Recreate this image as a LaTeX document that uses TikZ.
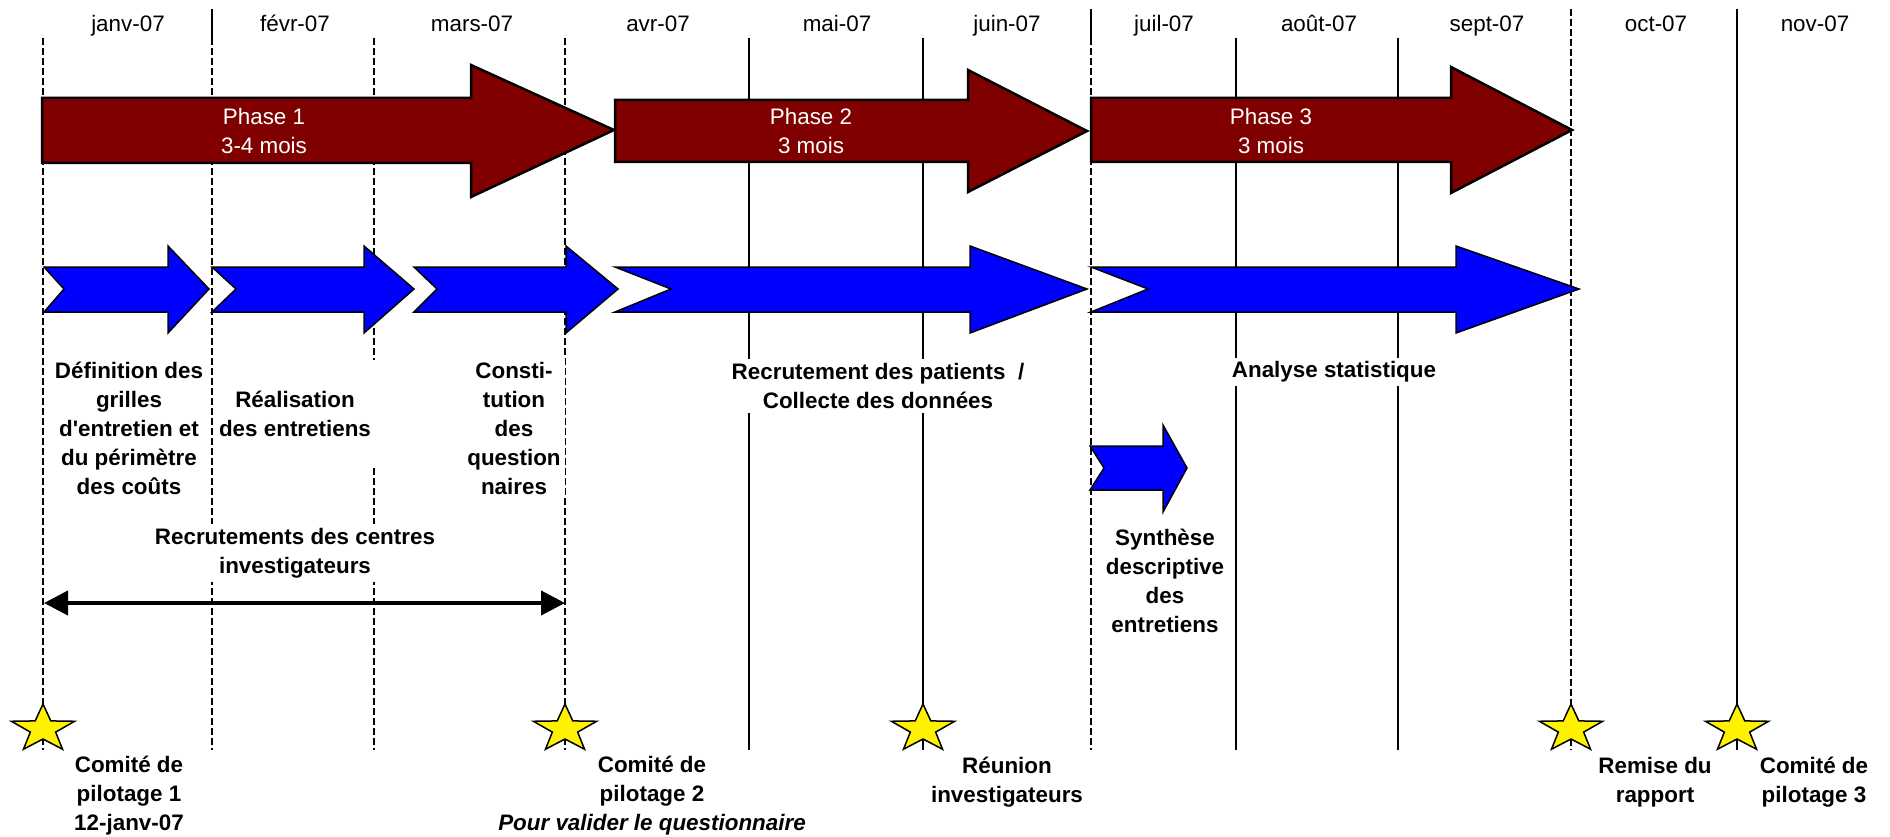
\documentclass[tikz,border=0pt]{standalone}
\usepackage{fontspec}
\setmainfont{Liberation Sans}
\usepackage{tikz}
\usetikzlibrary{shapes.geometric, arrows.meta, positioning}
\definecolor{bordeaux}{RGB}{128,0,0}
\newcommand{\taille}{\fontsize{22.4}{29}\selectfont}
\tikzstyle{grille} = [line width=1.3pt]
\tikzstyle{grilletir} = [line width=2.4pt, dash pattern=on 7pt off 3pt]
\tikzstyle{mois} = [anchor=base, font=\taille]
\tikzstyle{phase} = [fill=bordeaux, draw=black, line width=2.5pt]
\tikzstyle{etape} = [fill=blue, draw=black, line width=1.5pt]
\tikzstyle{phasetexte} = [align=center, text=white, font=\taille]
\tikzstyle{texte} = [align=center, fill=white, inner sep=4pt, font=\taille\bfseries]
\tikzstyle{jalon} = [star, star points=5, star point ratio=2.5, minimum size=50pt, inner sep=0pt, xscale=1.33, fill=yellow, draw=black, line width=1.5pt]
\tikzstyle{duree} = [line width=4pt, {Triangle[length=24pt,width=24pt]}-{Triangle[length=24pt,width=24pt]}]
\newcommand{\etape}[4]{\draw[etape] (#1,267) -- (#3,267) -- (#3,246) -- (#4,289) -- (#3,333) -- (#3,312) -- (#1,312) -- (#2,289) -- cycle;}
\begin{document}
\begin{tikzpicture}[x=1pt, y=-1pt]
\useasboundingbox (0,0) rectangle (1890,837);
\draw[grilletir] (43,38) -- (43,750);
\draw[grille] (212,9) -- (212,38);
\draw[grilletir] (212,38) -- (212,750);
\draw[grilletir] (374,38) -- (374,750);
\draw[grilletir] (565,38) -- (565,750);
\draw[grille] (749,38) -- (749,750);
\draw[grille] (923,38) -- (923,750);
\draw[grille] (1091,9) -- (1091,38);
\draw[grilletir] (1091,38) -- (1091,750);
\draw[grille] (1236,38) -- (1236,750);
\draw[grille] (1398,38) -- (1398,750);
\draw[grilletir] (1571,9) -- (1571,750);
\draw[grille] (1737,9) -- (1737,750);
\foreach \x/\m [count=\i] in {128/janv-07, 295/févr-07, 472/mars-07, 658/avr-07, 837/mai-07, 1007/juin-07, 1164/juil-07, 1319/août-07, 1487/sept-07, 1656/oct-07, 1815/nov-07}
  \node[mois] (m\i) at (\x,32) {\m};
\draw[phase] (42,98) -- (471,98) -- (471,65) -- (614,130) -- (471,197) -- (471,163) -- (42,163) -- cycle;
\draw[phase] (615,100) -- (968,100) -- (968,70) -- (1087,131) -- (968,192) -- (968,162) -- (615,162) -- cycle;
\draw[phase] (1091,98) -- (1451,98) -- (1451,67) -- (1572,130) -- (1451,193) -- (1451,162) -- (1091,162) -- cycle;
\node[phasetexte] (p1) at (264,131) {Phase 1\\3-4 mois};
\node[phasetexte] (p2) at (811,131) {Phase 2\\3 mois};
\node[phasetexte] (p3) at (1271,131) {Phase 3\\3 mois};
\etape{44}{64}{168}{209}
\etape{212}{236}{364}{414}
\etape{414}{437}{566}{618}
\etape{615}{671}{970}{1087}
\etape{1091}{1148}{1456}{1579}
\draw[etape] (1090,446) -- (1163,446) -- (1163,425) -- (1187,468) -- (1163,512) -- (1163,490) -- (1090,490) -- (1104,468) -- cycle;
\node[texte] (def) at (129,428) {Définition des\\grilles\\d\textquotesingle entretien et\\du périmètre\\des coûts};
\node[texte, inner ysep=31pt] (real) at (295,414) {Réalisation\\des entretiens};
\node[texte] (const) at (514,428) {Consti-\\tution\\des\\question\\naires};
\node[texte] (centres) at (295,553) {Recrutements des centres\\investigateurs};
\coordinate (d1) at (44,603);
\coordinate (d2) at (565,603);
\draw[duree] (d1) -- (d2);
\node[texte] (patients) at (878,386) {Recrutement des patients\ \ /\\Collecte des données};
\node[texte] (analyse) at (1334,372) {Analyse statistique};
\node[texte] (synthese) at (1165,581) {Synthèse\\descriptive\\des\\entretiens};
\node[jalon] (j1) at (43,729) {};
\node[jalon] (j2) at (565,729) {};
\node[jalon] (j3) at (923,729) {};
\node[jalon] (j4) at (1571,729) {};
\node[jalon] (j5) at (1737,729) {};
\node[texte] (cp1) at (129,796) {Comité de\\pilotage 1\\12-janv-07};
\node[texte] (cp2) at (652,796) {Comité de\\pilotage 2\\\textit{Pour valider le questionnaire}};
\node[texte] (reunion) at (1007,782) {Réunion\\investigateurs};
\node[texte] (remise) at (1655,782) {Remise du\\rapport};
\node[texte] (cp3) at (1814,782) {Comité de\\pilotage 3};
\end{tikzpicture}
\end{document}
